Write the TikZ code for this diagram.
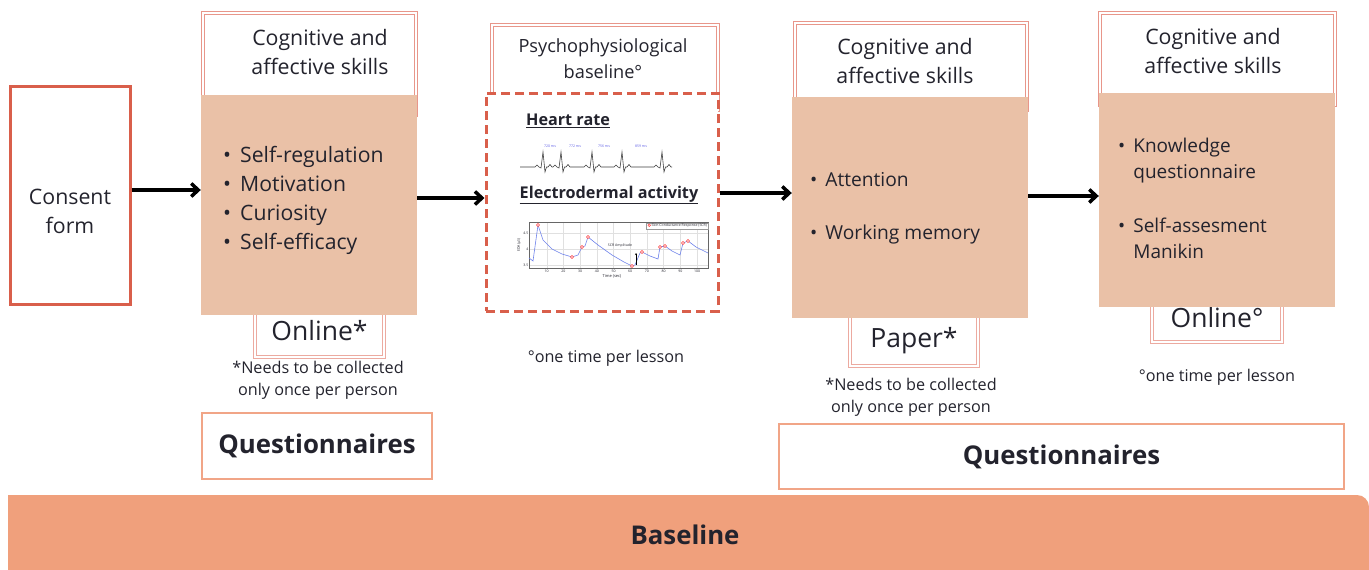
\documentclass[tikz,border=0pt]{standalone}
\usepackage{fontspec}
\setmainfont{Open Sans}
\usetikzlibrary{arrows.meta}
\definecolor{consentred}{RGB}{217,95,75}
\definecolor{skinfill}{RGB}{234,193,167}
\definecolor{hdrline}{RGB}{232,150,138}
\definecolor{modeline}{RGB}{236,170,160}
\definecolor{questline}{RGB}{241,165,135}
\definecolor{basefill}{RGB}{240,160,124}
\definecolor{txtdark}{RGB}{35,35,45}
\definecolor{ecgblue}{RGB}{90,90,230}
\definecolor{edablue}{RGB}{110,130,235}
\newcommand{\fs}[2]{\fontsize{#1}{#2}\selectfont}

\begin{document}
\begin{tikzpicture}[x=1pt, y=-1pt, >={Straight Barb[length=7pt,width=13pt]},
  every node/.style={text=txtdark},
  consentbox/.style={draw=consentred, line width=3pt, minimum width=120pt, minimum height=218pt},
  hdr/.style={draw=hdrline, double=white, double distance=2.5pt, line width=0.9pt, fill=white, inner sep=0pt},
  hdrtxt/.style={align=center, font=\fs{21.3}{29}},
  skills/.style={fill=skinfill, inner sep=0pt},
  mode/.style={draw=modeline, double=white, double distance=2pt, line width=1pt, fill=white, font=\fs{26.5}{30}},
  note/.style={align=center, font=\fs{16.2}{22}},
  quest/.style={draw=questline, line width=1.8pt, fill=white, font=\bfseries\fs{25.8}{30}},
  measure/.style={draw=consentred, line width=3pt, dash pattern=on 9pt off 5pt, fill=white},
  flow/.style={->, line width=3.5pt, black}]
\useasboundingbox (0,0) rectangle (1369,570);

% consent
\node[consentbox] (consent) at (70,195) {};
\node[font=\fs{21.3}{29}, align=center] (consenttxt) at (70,211) {Consent\\form};

% block 1
\node[hdr, minimum width=213pt, minimum height=102pt] (hdr1) at (309.5,64) {};
\node[hdrtxt] (hdr1txt) at (320,52) {Cognitive and\\affective skills};
\node[mode, minimum width=129pt, minimum height=52pt] (online1) at (319.5,331) {Online*};
\node[skills, minimum width=216pt, minimum height=220pt] (skills1) at (309,205) {};
\node[anchor=west, inner sep=0pt, font=\fs{21.2}{29}] (list1) at (223,200.5) {%
  \begin{tabular}{@{}l@{\hspace{9pt}}l@{}}
  \textbullet & Self-regulation\\
  \textbullet & Motivation\\
  \textbullet & Curiosity\\
  \textbullet & Self-efficacy
  \end{tabular}};
\node[note] (note1) at (318,380) {*Needs to be collected\\only once per person};
\node[quest, minimum width=230pt, minimum height=66pt] (quest1) at (317,446) {Questionnaires};

% block 2
\node[hdr, minimum width=226pt, minimum height=85pt] (hdr2) at (605,67.5) {};
\node[hdrtxt, font=\fs{18.2}{26}] (hdr2txt) at (603,59) {Psychophysiological\\baseline°};
\node[measure, minimum width=232pt, minimum height=218pt] (physio) at (602,202) {};
\node[font=\bfseries\fs{16.2}{18}] (hrtxt) at (568,121) {\underline{Heart rate}};
\node[font=\bfseries\fs{16.2}{18}] (edatxt) at (609,195) {\underline{Electrodermal activity}};
% ecg trace
\draw[line width=0.6pt, black!75] (520,167) foreach \s in {543,561,592,622,662}{
  -- ({\s-8},167) -- ({\s-6},165) -- ({\s-4},167) -- ({\s-2},168) -- (\s,152)
  -- ({\s+2},172) -- ({\s+3.5},167) -- ({\s+5},167) -- ({\s+7},164.5) -- ({\s+9},167)} -- (672,167);
\foreach \x/\ms in {550/720,575/772,604/756,641/859}
  \node[font=\fs{3.5}{4}, text=ecgblue, inner sep=0pt] (rr\ms) at (\x,146) {\ms\ ms};
% eda chart
\foreach \t in {10,20,...,100} {
  \draw[black!12, line width=0.3pt] ({530+1.67*\t},222) -- ({530+1.67*\t},268);
  \node[font=\fs{3.5}{4}, inner sep=0pt] (tick\t) at ({530+1.67*\t},271) {\t};
}
\foreach \y/\v in {233/4.5,249/4,265/3.5} {
  \draw[black!12, line width=0.3pt] (529,\y) -- (708,\y);
  \node[font=\fs{3.5}{4}, anchor=east, inner sep=0.5pt] (yl\y) at (529,\y) {\v};
}
\draw[black!60, line width=0.4pt] (529,222) rectangle (708,268);
\node[font=\fs{4}{5}, inner sep=0pt] (tlabel) at (612,276.5) {Time (sec)};
\node[font=\fs{3.5}{4}, inner sep=0pt, rotate=90] (elabel) at (519,245) {EDA (µS)};
\node[draw=black!40, line width=0.3pt, fill=white, font=\fs{3.5}{4}, inner sep=1pt, anchor=north east] (legend) at (708,222.5)
  {\tikz\draw[red!80, fill=red!20, line width=0.4pt] (0,0) circle (1.4pt); Skin Conductance Response (SCR)};
\draw[edablue, line width=0.6pt] (529,258) -- (533,261) -- (538,225) -- (543,240) -- (552,249) -- (562,254)
  -- (572,257) -- (578,255) -- (582,247) -- (585,246) -- (588,237) -- (598,245) -- (612,255) -- (624,262)
  -- (632,266) -- (635,265) -- (640,253) -- (642,252) -- (650,256) -- (658,259) -- (660,247) -- (665,246)
  -- (672,251) -- (680,255) -- (683,243) -- (688,241) -- (696,247) -- (708,253);
\foreach \p in {(538,225),(572,257),(582,247),(588,237),(632,266),(642,252),(660,247),(665,246),(683,243),(688,241)}
  \draw[red!80, fill=red!20, line width=0.4pt] \p circle (1.6pt);
\draw[->, >={Stealth[length=2pt,width=2pt]}, line width=0.3pt] (636,265) -- (636,253);
\node[font=\fs{3.5}{4}, inner sep=0pt] (scramp) at (620,246) {SCR Amplitude};
\node[note] (note2) at (606,358) {°one time per lesson};

% block 3
\node[hdr, minimum width=232pt, minimum height=87pt] (hdr3) at (911,66.5) {};
\node[hdrtxt] (hdr3txt) at (905,61.5) {Cognitive and\\affective skills};
\node[mode, minimum width=128pt, minimum height=50pt] (paper3) at (914,341) {Paper*};
\node[skills, minimum width=236pt, minimum height=221pt] (skills3) at (910,207.5) {};
\node[anchor=west, inner sep=0pt, font=\fs{19.2}{26}] (list3) at (810,207.5) {%
  \begin{tabular}{@{}l@{\hspace{8pt}}l@{}}
  \textbullet & Attention\\[27pt]
  \textbullet & Working memory
  \end{tabular}};
\node[note] (note3) at (911,397) {*Needs to be collected\\only once per person};
\node[quest, minimum width=565pt, minimum height=65pt] (quest3) at (1061.5,456.5) {Questionnaires};

% block 4
\node[hdr, minimum width=235pt, minimum height=92pt] (hdr4) at (1217.5,59) {};
\node[hdrtxt] (hdr4txt) at (1213,51.5) {Cognitive and\\affective skills};
\node[mode, minimum width=130pt, minimum height=48pt] (online4) at (1217,318) {Online°};
\node[skills, minimum width=236pt, minimum height=214pt] (skills4) at (1217,200) {};
\node[anchor=west, inner sep=0pt, font=\fs{19}{26}] (list4) at (1118,200) {%
  \begin{tabular}{@{}l@{\hspace{8pt}}l@{}}
  \textbullet & Knowledge\\
              & questionnaire\\[28pt]
  \textbullet & Self-assesment\\
              & Manikin
  \end{tabular}};
\node[note] (note4) at (1217,377) {°one time per lesson};

% arrows
\draw[flow] ([yshift=5pt]consent.east) -- ([yshift=15pt]skills1.west);
\draw[flow] ([yshift=7pt]skills1.east) -- ([yshift=4pt]physio.west);
\draw[flow] ([yshift=9pt]physio.east) -- ([yshift=14.5pt]skills3.west);
\draw[flow] ([yshift=11.5pt]skills3.east) -- ([yshift=4pt]skills4.west);

% baseline band
\fill[basefill] (8,580) -- (8,495) -- (1357,495) arc[start angle=90, end angle=0, radius=12pt] -- (1369,580) -- cycle;
\node[font=\bfseries\fs{25.8}{30}] (baseline) at (685,535) {Baseline};
\end{tikzpicture}
\end{document}
